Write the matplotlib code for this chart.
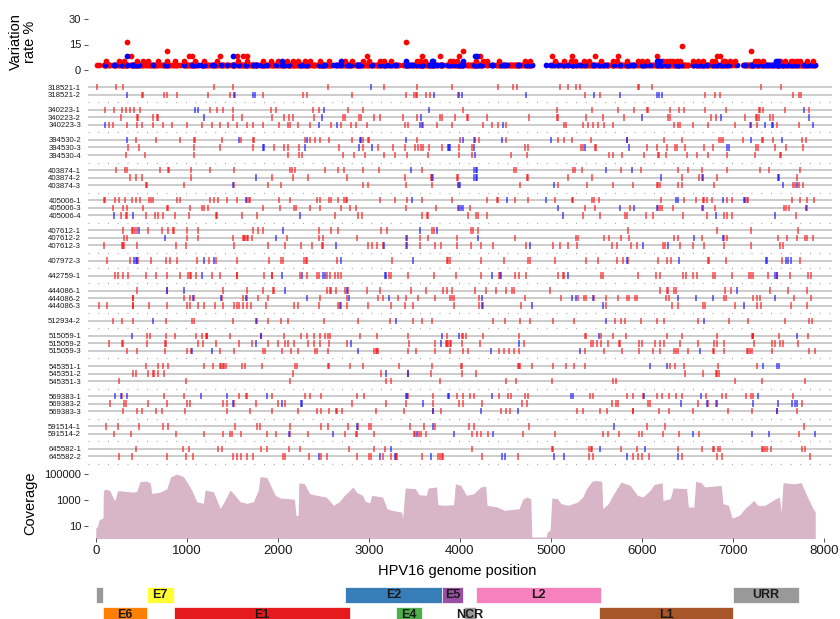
import numpy as np
import matplotlib.pyplot as plt
from matplotlib.patches import Rectangle

plt.rcParams['font.family'] = ['Liberation Sans', 'DejaVu Sans']

# ---- variant sites per sample (genome position), red / blue ----
red_318521_1 = [11, 223, 304, 1304, 1512, 2556, 3172, 3534, 3912, 4425, 4590, 4626, 5102, 5186, 5274, 5322,
                5963, 5974, 6110, 7311, 7531]
blue_318521_1 = [3022]
red_318521_2 = [512, 523, 751, 780, 890, 1238, 1476, 1531, 1835, 2282, 2318, 2813, 3406, 3498, 3516, 3527, 3626,
                3674, 3978, 5377, 5542, 6696, 6806, 6860, 7666, 7729, 7747]
blue_318521_2 = [348, 1520, 1732, 1747, 3721, 3992, 4022, 4725, 5480, 5762, 6172, 6194, 6219]
red_340223_1 = [102, 201, 293, 329, 377, 425, 487, 1256, 1329, 1395, 1512, 1926, 1978, 2384, 2450, 2776, 2934,
                4040, 5066, 5450, 5743, 5915, 6055, 6073, 6311, 6410, 6465, 6696, 6926, 7289, 7300, 7329, 7575, 7838]
blue_340223_1 = [1095, 1124, 2512, 3666, 7784]
red_340223_2 = [274, 450, 469, 626, 670, 688, 1512, 1604, 1941, 2069, 2124, 2165, 2399, 2721, 2740, 2893, 2915,
                3062, 3124, 3381, 3527, 3783, 3809, 3948, 4077, 4095, 4296, 4765, 5066, 5077, 5388, 5578, 5809,
                6293, 6311, 6762, 6817, 7135, 7256, 7271, 7293, 7410, 7439]
blue_340223_2 = [1194, 2483, 3575, 6007, 6868, 7838]
red_340223_3 = [146, 187, 348, 450, 505, 626, 736, 835, 1000, 1164, 1274, 1366, 1457, 1549, 1666, 1732, 1842,
                2014, 2117, 2135, 2227, 2355, 2582, 2696, 2806, 2857, 2978, 3399, 3428, 3600, 3747, 3919, 4260,
                4351, 4425, 4505, 5150, 5165, 5359, 5414, 5469, 5523, 5586, 5688, 6355, 6403, 6421, 6567, 6732,
                7025, 7190, 7263, 7483, 7729]
blue_340223_3 = [102, 2458, 2648, 3564, 3582, 4480, 7197, 7355, 7428, 7439, 7886]
red_394530_2 = [439, 659, 926, 1080, 1091, 1384, 1593, 1732, 1743, 2300, 2355, 2410, 2465, 2560, 2813, 2941,
                2996, 3007, 3527, 4003, 4161, 4216, 4505, 5084, 5146, 5230, 5439, 5842, 6245, 6439, 6853, 6868,
                6890, 7110, 7318, 7329, 7446, 7758, 7806]
blue_394530_2 = [348, 1578, 2326, 2904, 2915, 3406, 4040, 4168, 4461, 5003, 5835, 7197, 7538]
red_394530_3 = [359, 479, 1084, 1366, 1725, 1963, 2073, 2110, 2238, 2677, 2941, 3106, 3271, 3399, 3509, 3545,
                3575, 3593, 3666, 3809, 3992, 4132, 4718, 4754, 5329, 5351, 5487, 5498, 6055, 6172, 6282, 6366,
                6385, 6476, 6685, 6780, 7256, 7282, 7465, 7586, 7776]
blue_394530_3 = [1842, 1853, 2300, 2893, 3033, 3868, 3883, 3894, 4161, 5377, 5860, 6934, 6959]
red_394530_4 = [333, 542, 1084, 2110, 2238, 2271, 2721, 2842, 2959, 3172, 3289, 3417, 3648, 3992, 4132, 4564,
                4736, 5644, 5688, 5780, 6029, 6176, 6194, 6267, 6494, 6604, 6725, 6934, 7245, 7520, 7531]
blue_394530_4 = [4168]
red_403874_1 = [223, 322, 340, 707, 791, 806, 1044, 1256, 1520, 2135, 2154, 2190, 2520, 2666, 2732, 2934, 3117,
                3582, 4600, 4615, 5249, 5267, 5340, 5769, 5992, 6395, 6512, 6666, 6934, 7300, 7402, 7740]
blue_403874_1 = [3465, 4161, 4176, 4187, 5608, 5890]
red_403874_2 = [377, 443, 505, 1047, 1934, 2165, 2337, 2758, 3399, 3681, 3703, 3967, 3985, 4743, 4754, 5186,
                5450, 6446, 6633, 6659, 6824, 7703]
blue_403874_2 = [1762, 3692, 4161, 4176, 4187, 6208, 6670, 7494, 7509]
red_403874_3 = [553, 567, 970, 1520, 1897, 2033, 2934, 2989, 3410, 3692, 3992, 4663, 5077, 5403, 5688, 5908,
                6164, 6183, 6201, 6395, 6446, 6798, 7666, 7685, 7729, 7776]
blue_403874_3 = [1505, 3978, 4003, 5040, 7556, 7703]
red_405006_1 = [91, 106, 212, 256, 322, 395, 443, 487, 589, 608, 633, 897, 926, 1256, 1300, 1348, 1447, 1556,
                1659, 1685, 1696, 2014, 2135, 2428, 2465, 2567, 2582, 2666, 2732, 2747, 2758, 3124, 3289, 3417,
                3589, 3912, 4296, 4406, 4425, 4608, 4747, 5047, 5238, 5249, 5450, 5476, 5534, 6208, 6469, 6597,
                6670, 6685, 6714, 6769, 6934, 6989, 7153, 7172, 7648, 7740, 7813, 7897]
blue_405006_1 = [1648, 3480, 4516, 4945, 6377, 6403, 6890, 7124, 7135]
red_405006_3 = [187, 296, 348, 523, 780, 791, 1036, 1172, 1190, 1238, 1842, 2025, 2179, 2201, 2355, 2465, 2696,
                2795, 2857, 3410, 3736, 3978, 4113, 5377, 5487, 5871, 6183, 6201, 6219, 6348, 6659, 6806, 7564,
                7586, 7622, 7813]
blue_405006_3 = [3992, 4014, 4033, 5084, 5762, 5919, 6172, 6670, 7802]
red_405006_4 = [274, 329, 340, 553, 652, 688, 743, 871, 1025, 1318, 1329, 1604, 1769, 2630, 2879, 2923, 3582,
                3637, 3655, 4087, 4176, 4198, 4296, 5359, 5542, 5816, 5835, 6044, 6128, 6458, 6714, 6905, 6934,
                6989, 7692]
blue_405006_4 = [201, 406, 2245, 5132, 6817, 7465]
red_407612_1 = [304, 395, 414, 432, 450, 578, 725, 791, 846, 861, 1000, 1128, 1732, 1787, 1835, 2458, 2582,
                2666, 3135, 3205, 3699, 3721, 4124, 4143, 4205, 5853, 6824, 7201, 7721]
blue_407612_1 = [479, 2055, 3564, 3747]
red_407612_2 = [315, 340, 1000, 1128, 1512, 1622, 1630, 1641, 1659, 1677, 1721, 2099, 2458, 2502, 2868, 3406,
                3564, 3648, 3967, 4608, 5274, 5296, 5589, 5644, 5772, 5860, 6359, 6395, 6659, 6905, 6934, 7501,
                7593, 7703, 7795, 7820, 7886]
blue_407612_2 = [762, 1978, 3417, 4198, 6575, 6890]
red_407612_3 = [95, 285, 296, 311, 450, 879, 989, 1523, 1897, 2080, 2252, 2373, 2483, 2494, 2996, 3040, 3088,
                3161, 3406, 3564, 3729, 3795, 3967, 4124, 4234, 4370, 4725, 5029, 5102, 5194, 5285, 5677, 5732,
                5879, 5952, 6238, 6256, 6421, 6567, 6685, 6908, 7197, 7520, 7549]
blue_407612_3 = [2641, 3172, 3425, 4773, 6018, 6293]
red_407972_3 = [128, 377, 461, 604, 773, 817, 890, 1117, 1249, 1322, 1549, 1904, 2033, 2062, 2293, 2311, 2326,
                2648, 3260, 3857, 3875, 3894, 4234, 4491, 4747, 4773, 5047, 5388, 5523, 5732, 5791, 5853, 6176,
                6274, 6318, 6732, 6743, 6926, 7538, 7740]
blue_407972_3 = [421, 439, 450, 1190, 1300, 2696, 3483, 5842, 6414, 7366, 7381, 7582, 7611, 7637]
red_442759_1 = [212, 241, 296, 359, 553, 663, 787, 926, 1011, 1036, 1047, 1102, 1274, 1366, 1549, 1556, 1849,
                1934, 1941, 2245, 2326, 2428, 2458, 2545, 2575, 2630, 2666, 2696, 3227, 3245, 3428, 3721, 3956,
                4231, 4432, 4443, 4608, 4652, 4725, 5084, 5132, 5150, 5549, 5571, 5963, 6157, 6201, 6458, 6487,
                6567, 6611, 6787, 6806, 6989, 7183, 7197, 7219, 7384, 7490, 7630, 7831, 7857]
blue_442759_1 = [1164, 2044, 2271, 2502, 2520, 3179, 3186, 4351, 4454, 5186, 7465, 7483]
red_444086_1 = [450, 787, 1402, 1659, 1842, 1945, 1959, 2545, 2575, 2586, 2637, 2740, 2776, 2985, 3124, 3465,
                3626, 3820, 3857, 3912, 4168, 4285, 4395, 4505, 4571, 4600, 4992, 6201, 6274, 6293, 6359, 6377,
                6915, 6981, 7410, 7611, 7813]
blue_444086_1 = [780, 970, 2080, 2758, 7043]
red_444086_2 = [406, 414, 970, 1036, 1084, 1384, 1622, 1659, 1787, 1897, 2465, 2758, 3099, 3161, 3326, 3406,
                3545, 3729, 3894, 3919, 3941, 4212, 4718, 5113, 5296, 5366, 5388, 5476, 5608, 5743, 5835, 5864,
                5926, 5952, 6263, 6304, 6905, 6923, 7227, 7263, 7300, 7674, 7857]
blue_444086_2 = [1073, 1373, 1652, 2318, 2783, 3223, 4241, 5230, 5274, 5461, 6395, 6597, 6787, 7465]
red_444086_3 = [40, 128, 406, 414, 589, 787, 999, 1036, 1128, 1190, 1311, 1402, 1520, 1549, 1575, 1615, 1659,
                1703, 1871, 2183, 2220, 2454, 2666, 2696, 2758, 2989, 3245, 3399, 3490, 3941, 4212, 4260, 4674,
                5608, 6329, 6395, 6677, 6696, 7025, 7263, 7311, 7637, 7813]
blue_444086_3 = [2685, 4241, 4791, 5571, 7124]
red_512934_2 = [187, 285, 414, 773, 1055, 1084, 1505, 1769, 1897, 2033, 2117, 2512, 2886, 3234, 3490, 3582,
                3699, 4370, 4498, 4663, 4772, 5029, 5260, 5707, 5769, 5816, 5988, 6164, 6245, 6615, 6959, 7164,
                7575, 7838, 7875]
blue_512934_2 = [633, 1762, 3300, 5608, 6688]
red_515059_1 = [567, 597, 773, 871, 1102, 1172, 1208, 1219, 1227, 1476, 1813, 2069, 2252, 2318, 2399, 2465,
                2520, 2556, 2575, 2904, 3088, 3428, 3857, 4022, 4040, 4066, 4260, 4652, 5377, 5388, 5549, 5681,
                5824, 6274, 6439, 6824, 7208, 7219, 7227, 7512, 7831]
blue_515059_1 = [395, 1817, 3809, 3992, 5534, 7703]
red_515059_2 = [150, 285, 304, 567, 762, 773, 1128, 1183, 1322, 1578, 1714, 1897, 2000, 2080, 2110, 2179, 2337,
                2403, 2465, 2567, 2758, 3443, 3729, 3850, 3857, 3875, 3894, 3905, 4022, 4223, 4710, 5439, 5461,
                5505, 5549, 5633, 5754, 5762, 5974, 5999, 6146, 6201, 6249, 6421, 6615, 6798, 6824, 6908, 7238,
                7428, 7465, 7520, 7556, 7714]
blue_515059_2 = [1758, 2805, 3795, 4655]
red_515059_3 = [348, 450, 762, 999, 1047, 1366, 1520, 1842, 1860, 2051, 2146, 2227, 2410, 2428, 2556, 3062,
                3077, 3095, 3106, 3436, 3520, 3729, 3894, 4040, 4095, 4432, 4487, 4546, 4600, 4652, 5377, 5586,
                5780, 5974, 6121, 6201, 6359, 6377, 6395, 6505, 6780, 6798, 6905, 7153, 7172, 7190, 7216, 7428,
                7838, 7904]
blue_515059_3 = [1055, 1274, 2879, 4340, 5322, 6641]
red_545351_1 = [553, 688, 736, 798, 1194, 1285, 1366, 1377, 1395, 1410, 1428, 1604, 1641, 1824, 2190, 2216,
                2556, 2567, 2794, 2934, 3333, 3692, 4011, 4022, 4637, 4652, 4663, 4791, 5029, 5164, 5260, 5377,
                6311, 6366, 6469, 6842, 7263]
blue_545351_1 = [6091, 6274, 7329, 7490, 7509]
red_545351_2 = [414, 439, 578, 633, 644, 688, 751, 2172, 3132, 3428, 3685, 4022, 4175, 6476, 6677, 6817, 6831,
                6853]
blue_545351_2 = [3186, 3436]
red_545351_3 = [256, 989, 2135, 3186, 3245, 3784, 4505, 4619, 5011, 5688, 5714, 7025, 7326, 7795]
blue_545351_3 = []
red_569383_1 = [285, 751, 970, 1578, 1648, 1659, 1941, 2300, 2355, 2476, 2875, 2952, 3428, 3703, 3974, 4040,
                4113, 4161, 4436, 4527, 4560, 4718, 4747, 5432, 5461, 5835, 5908, 6011, 6172, 6227, 6300, 6373,
                6439, 6707, 6879, 6923, 7143, 7197, 7219, 7659]
blue_569383_1 = [216, 278, 348, 1157, 1447, 1879, 3406, 3417, 3868, 3883, 4351, 5219, 5241, 6029, 6648, 7274]
red_569383_2 = [157, 315, 333, 578, 780, 999, 1036, 1402, 1439, 1520, 1761, 2007, 2080, 2813, 3186, 3410, 3710,
                3992, 4040, 4241, 4681, 4736, 5670, 5714, 5743, 6073, 6091, 6622, 6725, 6817, 7765]
blue_569383_2 = [1512, 2044, 2252, 2271, 3600, 6428, 6714, 6824, 7219, 7501, 7648, 7685, 7703]
red_569383_3 = [296, 450, 505, 663, 725, 981, 1439, 1696, 1934, 2227, 2428, 2476, 2567, 2637, 2648, 2703, 3077,
                3392, 3710, 3795, 4450, 4505, 4553, 5285, 5359, 5542, 5615, 5901, 5908, 6190, 6304, 6560, 6945,
                7216, 7483, 7703]
blue_569383_3 = [3703, 4230, 4644, 7490]
red_591514_1 = [113, 249, 476, 736, 798, 1531, 1776, 1805, 2135, 2472, 2556, 2769, 2879, 3007, 3022, 3454,
                3611, 3729, 4106, 4157, 4762, 6055, 6256, 7784]
blue_591514_1 = [2868, 3703, 5696]
red_591514_2 = [201, 384, 879, 1194, 1402, 1476, 1494, 1597, 1879, 1978, 2135, 2337, 2740, 2857, 2868, 3058,
                3498, 3509, 3553, 3571, 3630, 4139, 4194, 4234, 4307, 4699, 5047, 5571, 5626, 5750, 5974, 5999,
                6238, 6410, 6630, 7729]
blue_591514_2 = [2128, 2604, 3534, 3938, 4362, 6560, 7208, 7399, 7900]
red_645582_1 = [443, 956, 1025, 1348, 1384, 1817, 1879, 2128, 2245, 2783, 3058, 3179, 4132, 5011, 5029, 5425,
                5439, 5450, 5769, 5952, 6403, 6659, 6780, 6798, 6842, 6860, 7318, 7337, 7355, 7373, 7417, 7758,
                7795]
blue_645582_1 = [3245, 5542, 6036]
red_645582_2 = [256, 395, 780, 992, 1073, 1512, 1549, 1597, 1659, 1732, 2062, 2080, 2344, 2472, 2538, 2875,
                3007, 3022, 3154, 3245, 3300, 3307, 3582, 3765, 3784, 3802, 3820, 4241, 4645, 5425, 5469, 5908,
                5963, 5999, 6080, 6439, 6824, 6879, 7849]
blue_645582_2 = [2458, 3124, 3289, 3685, 4461, 4498, 5040, 5150, 5835, 6395]

samples = ['318521-1', '318521-2', '340223-1', '340223-2', '340223-3', '394530-2', '394530-3', '394530-4',
           '403874-1', '403874-2', '403874-3', '405006-1', '405006-3', '405006-4', '407612-1', '407612-2',
           '407612-3', '407972-3', '442759-1', '444086-1', '444086-2', '444086-3', '512934-2', '515059-1',
           '515059-2', '515059-3', '545351-1', '545351-2', '545351-3', '569383-1', '569383-2', '569383-3',
           '591514-1', '591514-2', '645582-1', '645582-2']
red_sites = [red_318521_1, red_318521_2, red_340223_1, red_340223_2, red_340223_3, red_394530_2, red_394530_3,
             red_394530_4, red_403874_1, red_403874_2, red_403874_3, red_405006_1, red_405006_3, red_405006_4,
             red_407612_1, red_407612_2, red_407612_3, red_407972_3, red_442759_1, red_444086_1, red_444086_2,
             red_444086_3, red_512934_2, red_515059_1, red_515059_2, red_515059_3, red_545351_1, red_545351_2,
             red_545351_3, red_569383_1, red_569383_2, red_569383_3, red_591514_1, red_591514_2, red_645582_1,
             red_645582_2]
blue_sites = [blue_318521_1, blue_318521_2, blue_340223_1, blue_340223_2, blue_340223_3, blue_394530_2,
              blue_394530_3, blue_394530_4, blue_403874_1, blue_403874_2, blue_403874_3, blue_405006_1,
              blue_405006_3, blue_405006_4, blue_407612_1, blue_407612_2, blue_407612_3, blue_407972_3,
              blue_442759_1, blue_444086_1, blue_444086_2, blue_444086_3, blue_512934_2, blue_515059_1,
              blue_515059_2, blue_515059_3, blue_545351_1, blue_545351_2, blue_545351_3, blue_569383_1,
              blue_569383_2, blue_569383_3, blue_591514_1, blue_591514_2, blue_645582_1, blue_645582_2]

# ---- sites shared by several samples, by number of samples ----
red_n6 = [340, 3410]
red_n5 = [6439]
red_n4 = [787, 4040, 7201]
red_n3 = [384, 1029, 1055, 1366, 1556, 1615, 1666, 2980, 3582, 3784, 3996, 4223, 5011, 5230, 5487, 5743,
          6164, 6824, 6860]
red_n2 = [113, 256, 315, 450, 516, 578, 688, 780, 871, 974, 1091, 1190, 1329, 1567, 1659, 1842, 1923, 2007,
          2099, 2165, 2219, 2300, 2355, 2465, 2560, 2740, 2813, 2934, 3007, 3124, 3172, 3245, 3527, 3564, 3619,
          3893, 3930, 3974, 4179, 4260, 4304, 4432, 4718, 4773, 5047, 5146, 5219, 5267, 5370, 5421, 5549, 5688,
          5732, 5835, 5963, 5999, 6055, 6238, 6274, 6311, 6348, 6384, 6421, 6567, 6622, 6677, 6769, 6806, 6897,
          6916, 6970, 7025, 7245, 7282, 7329, 7520, 7575, 7637, 7666, 7703, 7740, 7813, 7886]
blue_n3 = [340, 1512, 4168, 4186]
blue_n2 = [2044, 2700, 3410, 3692, 3710, 4040, 6164, 6201, 7476, 7494]

# ---- read depth (log10) ----
cov_pos = [0, 18, 36, 66, 80, 84, 121, 157, 200, 212, 240, 267, 414, 450, 487, 560, 600, 615, 707, 780, 824,
           890, 963, 1010, 1055, 1109, 1183, 1201, 1293, 1366, 1402, 1476, 1512, 1586, 1659, 1732, 1787, 1805,
           1879, 1912, 1972, 2032, 2132, 2184, 2200, 2224, 2232, 2292, 2352, 2432, 2532, 2612, 2672, 2732, 2772,
           2824, 2872, 2932, 2960, 3012, 3032, 3152, 3200, 3252, 3360, 3372, 3400, 3512, 3552, 3632, 3652, 3744,
           3760, 3832, 3932, 3952, 4012, 4072, 4152, 4232, 4284, 4300, 4412, 4492, 4652, 4692, 4732, 4780, 4792,
           4952, 4960, 4992, 5012, 5072, 5112, 5192, 5292, 5352, 5392, 5452, 5492, 5560, 5572, 5632, 5692, 5772,
           5872, 5952, 6012, 6092, 6132, 6224, 6232, 6312, 6344, 6492, 6512, 6572, 6592, 6652, 6692, 6872, 6892,
           6952, 6992, 7072, 7132, 7232, 7272, 7352, 7472, 7512, 7532, 7552, 7672, 7752, 7812, 7872, 7906]
cov_log = [0.80, 0.93, 1.44, 1.57, 1.60, 3.76, 3.82, 3.70, 3.00, 2.99, 3.70, 3.70, 3.60, 3.65, 4.41, 4.46,
           4.30, 3.50, 3.60, 3.85, 4.79, 5.00, 4.80, 4.30, 3.75, 2.86, 2.73, 3.76, 3.63, 2.35, 2.73, 3.76, 3.50,
           2.86, 2.73, 2.86, 3.76, 4.80, 4.74, 4.25, 3.35, 3.14, 3.09, 3.04, 1.80, 1.80, 4.33, 4.25, 3.48, 3.35,
           3.22, 2.58, 2.83, 3.35, 3.61, 4.00, 3.56, 3.35, 2.89, 2.78, 3.35, 3.22, 2.32, 2.19, 2.06, 1.60, 3.92,
           3.87, 3.40, 3.35, 3.92, 4.00, 2.63, 2.58, 2.63, 4.25, 4.12, 3.35, 3.48, 4.00, 4.07, 2.58, 2.45, 2.19,
           2.32, 3.04, 3.22, 3.09, 0.13, 0.13, 0.51, 0.64, 3.14, 3.09, 2.71, 2.58, 2.83, 3.22, 3.87, 4.43, 4.51,
           4.43, 2.32, 2.71, 3.48, 4.38, 4.12, 3.35, 3.22, 3.74, 4.18, 4.33, 2.96, 3.09, 3.92, 3.87, 2.45, 2.45,
           4.43, 4.33, 4.00, 4.12, 2.71, 2.58, 1.60, 1.80, 2.32, 2.96, 2.58, 2.58, 3.09, 3.22, 2.06, 4.33, 4.25,
           4.33, 3.35, 2.45, 2.06]

# ---- genome annotation ----
gene_names = ['', 'E7', 'E2', 'E5', 'L2', 'URR', 'E6', 'E1', 'E4', 'NCR', 'L1']
gene_start = [0, 560, 2738, 3802, 4176, 7003, 84, 860, 3300, 4047, 5534]
gene_end = [84, 857, 3802, 4040, 5556, 7728, 560, 2794, 3582, 4176, 7000]
gene_row = [0, 0, 0, 0, 0, 0, 1, 1, 1, 1, 1]
gene_colors = ['#999999', '#FFFF33', '#377EB8', '#984EA3', '#F781BF', '#999999',
               '#FF7F00', '#E41A1C', '#4DAF4A', '#999999', '#A65628']

W, H = 840, 619
XLIM = (-85, 8090)
n_total = len(samples)


def px_axes(fig, top, bottom, left=88, right=832):
    return fig.add_axes([left / W, 1 - bottom / H, (right - left) / W, (bottom - top) / H])


def clean(ax):
    for s in ax.spines.values():
        s.set_visible(False)
    ax.set_xlim(*XLIM)
    ax.tick_params(colors='#333333', labelcolor='#1a1a1a', length=3, width=0.6)


fig = plt.figure(figsize=(W / 100, H / 100), dpi=100)

# ---- variation rate strip ----
ax1 = px_axes(fig, 12.2, 73.4)
clean(ax1)
one = 100.0 / n_total
base_r = sorted(set(p for lst in red_sites for p in lst))
base_b = sorted(set(p for lst in blue_sites for p in lst))
ax1.scatter(base_r, [one] * len(base_r), s=17, c='#FF0000', lw=0, zorder=2)
ax1.scatter(base_b, [one] * len(base_b), s=17, c='#0000FF', lw=0, zorder=3)
for n, pos in [(2, red_n2), (3, red_n3), (4, red_n4), (5, red_n5), (6, red_n6)]:
    ax1.scatter(pos, [n * one] * len(pos), s=17, c='#FF0000', lw=0, zorder=4)
for n, pos in [(2, blue_n2), (3, blue_n3)]:
    ax1.scatter(pos, [n * one] * len(pos), s=17, c='#0000FF', lw=0, zorder=5)
ax1.set_ylim(-2, 34)
ax1.set_yticks([0, 15, 30])
ax1.set_xticks([])
ax1.tick_params(axis='y', labelsize=8, pad=2)

# ---- per-sample variant tracks ----
ax2 = px_axes(fig, 80.2, 468.5)
clean(ax2)
slot = 0
row_slots = []
sep_slots = []
for i, name in enumerate(samples):
    row_slots.append(slot)
    slot += 1
    if i == len(samples) - 1 or samples[i + 1].split('-')[0] != name.split('-')[0]:
        sep_slots.append(slot)
        slot += 1
for y in row_slots:
    ax2.axhline(y, color='#C4C4C4', lw=1.2, zorder=1)
for y in sep_slots:
    ax2.axhline(y, color='#A8A8A8', lw=0.9, ls=(0, (0.8, 7)), zorder=1)
for y, r, b in zip(row_slots, red_sites, blue_sites):
    ax2.vlines(r, y - 0.43, y + 0.43, color='#FF0000', lw=1.3, alpha=0.6, zorder=2)
    if b:
        ax2.vlines(b, y - 0.43, y + 0.43, color='#0000FF', lw=1.3, alpha=0.6, zorder=3)
ax2.set_ylim(50.6, -0.93)
ax2.set_yticks(row_slots)
ax2.set_yticklabels(samples, fontsize=5.6)
ax2.tick_params(axis='y', length=0, pad=5)
ax2.set_xticks([])

# ---- coverage ----
ax3 = px_axes(fig, 467, 538)
clean(ax3)
depth = 10 ** np.array(cov_log)
ax3.fill_between(cov_pos, 1e-3, depth, color='#D9B5C8', lw=0)
ax3.set_yscale('log')
ax3.set_ylim(1.12, 3.5e5)
ax3.set_yticks([10, 1000, 100000])
ax3.set_yticklabels(['10', '1000', '100000'])
ax3.minorticks_off()
ax3.tick_params(axis='y', labelsize=8, pad=2)
ax3.set_xticks(range(0, 8001, 1000))
ax3.tick_params(axis='x', labelsize=9.5, pad=2)

# ---- annotation boxes ----
ax4 = px_axes(fig, 580, 630)
ax4.set_axis_off()
ax4.set_xlim(*XLIM)
ax4.set_ylim(630, 580)
for name, s, e, r, c in zip(gene_names, gene_start, gene_end, gene_row, gene_colors):
    y0 = 587 if r == 0 else 607
    ax4.add_patch(Rectangle((s, y0), e - s, 16, facecolor=c, edgecolor='white', lw=0.5))
    if name:
        ax4.text((s + e) / 2, y0 + 8.2, name, ha='center', va='center', fontsize=9, fontweight='bold',
                 color='#1a1a1a')

fig.text(23 / W, 1 - 42 / H, 'Variation\nrate %', rotation=90, ha='center', va='center', fontsize=10.5,
         linespacing=0.95)
fig.text(30 / W, 1 - 503 / H, 'Coverage', rotation=90, ha='center', va='center', fontsize=10.5)
fig.text(457 / W, 1 - 571 / H, 'HPV16 genome position', ha='center', va='center', fontsize=10.5)

fig.savefig('out.png', dpi=100)
